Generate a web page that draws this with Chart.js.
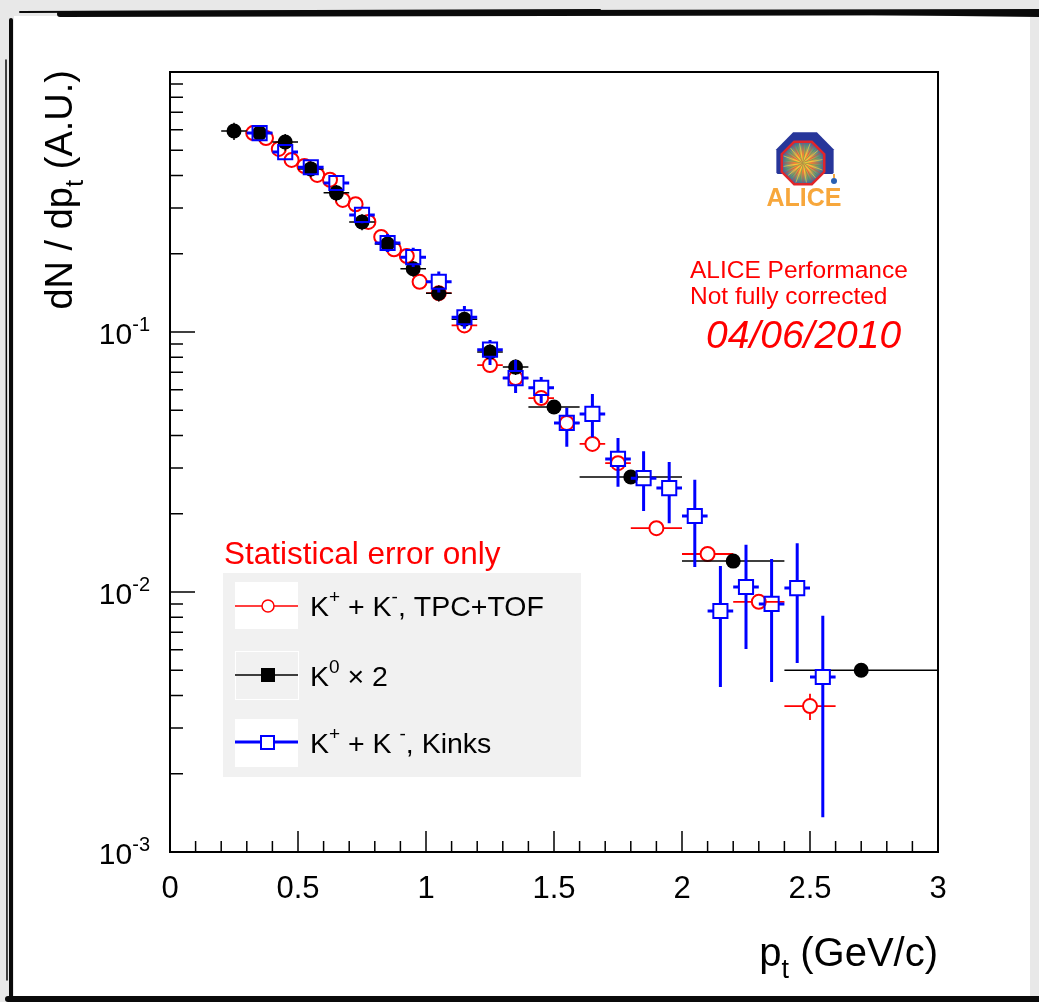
<!DOCTYPE html>
<html>
<head>
<meta charset="utf-8">
<title>dN/dpt kaons - ALICE Performance</title>
<script src="https://cdn.jsdelivr.net/npm/chart.js@4.4.1/dist/chart.umd.min.js"></script>
<style>
    html, body { margin: 0; padding: 0; background: #e8e8e8; overflow: hidden; }
    canvas { display: block; }
</style>
</head>
<body>
<canvas id="spectraChart" width="1039" height="1002"></canvas>
<script>
/**
 * Espectros de kaons
 */

// K+ + K-, TPC+TOF (círculos abertos vermelhos)
const tpcTofX = [0.325, 0.375, 0.425, 0.475, 0.525, 0.575, 0.625, 0.675, 0.725, 0.775, 0.825, 0.875, 0.925, 0.975,
                 1.05, 1.15, 1.25, 1.35, 1.45, 1.55, 1.65, 1.75, 1.9, 2.1, 2.3, 2.5];
const tpcTofXErr = [0.025, 0.025, 0.025, 0.025, 0.025, 0.025, 0.025, 0.025, 0.025, 0.025, 0.025, 0.025, 0.025, 0.025,
                    0.05, 0.05, 0.05, 0.05, 0.05, 0.05, 0.05, 0.05, 0.1, 0.1, 0.1, 0.1];
const tpcTofY = [0.582, 0.557, 0.506, 0.459, 0.435, 0.402, 0.385, 0.322, 0.310, 0.265, 0.232, 0.208, 0.196, 0.156,
                 0.141, 0.106, 0.0746, 0.0665, 0.0557, 0.0447, 0.0371, 0.0313, 0.0176, 0.0140, 0.00917, 0.00364];
const tpcTofYErr = [0.008, 0.008, 0.007, 0.007, 0.006, 0.006, 0.006, 0.005, 0.005, 0.005, 0.004, 0.004, 0.004, 0.004,
                    0.003, 0.003, 0.002, 0.002, 0.002, 0.0018, 0.0015, 0.0013, 0.0009, 0.0008, 0.0004, 0.00042];

// K0 x 2 (círculos cheios pretos)
const k0X = [0.25, 0.35, 0.45, 0.55, 0.65, 0.75, 0.85, 0.95, 1.05, 1.15, 1.25, 1.35, 1.5, 1.8, 2.2, 2.7];
const k0XErr = [0.05, 0.05, 0.05, 0.05, 0.05, 0.05, 0.05, 0.05, 0.05, 0.05, 0.05, 0.05, 0.1, 0.2, 0.2, 0.3];
const k0Y = [0.593, 0.582, 0.538, 0.424, 0.343, 0.265, 0.218, 0.175, 0.141, 0.112, 0.0838, 0.0733, 0.0515, 0.0277, 0.01315, 0.0050];
const k0YErr = [0.045, 0.042, 0.040, 0.030, 0.025, 0.019, 0.015, 0.012, 0.010, 0.008, 0.006, 0.005, 0.002, 0.001, 0.0005, 0.0002];

// K+ + K-, Kinks (quadrados abertos azuis)
const kinkX = [0.35, 0.45, 0.55, 0.65, 0.75, 0.85, 0.95, 1.05, 1.15, 1.25, 1.35, 1.45, 1.55, 1.65, 1.75, 1.85,
               1.95, 2.05, 2.15, 2.25, 2.35, 2.45, 2.55];
const kinkY = [0.582, 0.492, 0.430, 0.374, 0.282, 0.220, 0.194, 0.156, 0.114, 0.0855, 0.0665, 0.0610, 0.0447, 0.0484,
               0.0325, 0.0274, 0.0251, 0.0196, 0.00845, 0.01045, 0.0090, 0.01035, 0.00471];
const kinkYLow = [0.565, 0.470, 0.410, 0.355, 0.262, 0.203, 0.178, 0.142, 0.103, 0.0746, 0.0582, 0.0533, 0.0362, 0.0394,
                  0.0254, 0.0205, 0.0184, 0.01247, 0.00431, 0.00604, 0.00451, 0.00533, 0.00136];
const kinkYHigh = [0.600, 0.515, 0.450, 0.393, 0.303, 0.238, 0.211, 0.171, 0.126, 0.0931, 0.0780, 0.0672, 0.0511, 0.0578,
                   0.0391, 0.0348, 0.0316, 0.0270, 0.01259, 0.0152, 0.0134, 0.0154, 0.0081];
const kinkXErr = 0.05;

// Eixos
const xTickLabels = ['0', '0.5', '1', '1.5', '2', '2.5', '3'];
const yDecades = [-3, -2, -1];

const FONT = '"Liberation Sans", Arial, Helvetica, sans-serif';

document.addEventListener('DOMContentLoaded', function () {
    initializeSpectraChart();
});

/**
 * Monta os pontos com barras de erro
 */
function buildPoints(xs, ys, xErr, yLow, yHigh) {
    return xs.map((x, i) => ({
        x: x,
        y: ys[i],
        xErr: Array.isArray(xErr) ? xErr[i] : xErr,
        yLow: yLow[i],
        yHigh: yHigh[i]
    }));
}

/**
 * Desenha texto com partes em sobrescrito / subscrito
 * parts: [texto, 'n' | 'sup' | 'sub']
 */
function drawRichText(ctx, parts, x, y, size, align, color, style) {
    const fontFor = kind => (style || '') + ' ' + (kind === 'n' ? size : Math.round(size * 0.68)) + 'px ' + FONT;
    let total = 0;
    parts.forEach(([t, kind]) => {
        ctx.font = fontFor(kind);
        total += ctx.measureText(t).width;
    });
    let cx = x;
    if (align === 'right') cx = x - total;
    if (align === 'center') cx = x - total / 2;
    ctx.fillStyle = color;
    ctx.textAlign = 'left';
    ctx.textBaseline = 'alphabetic';
    parts.forEach(([t, kind]) => {
        ctx.font = fontFor(kind);
        let dy = 0;
        if (kind === 'sup') dy = -size * 0.45;
        if (kind === 'sub') dy = size * 0.3;
        ctx.fillText(t, cx, y + dy);
        cx += ctx.measureText(t).width;
    });
}

function octagonPath(ctx, cx, cy, r) {
    ctx.beginPath();
    for (let i = 0; i < 8; i++) {
        const a = Math.PI / 8 + i * Math.PI / 4;
        const px = cx + r * Math.cos(a);
        const py = cy + r * Math.sin(a);
        if (i === 0) ctx.moveTo(px, py); else ctx.lineTo(px, py);
    }
    ctx.closePath();
}

/**
 * Logo ALICE (aproximado)
 */
function drawAliceLogo(ctx, cx, cy) {
    ctx.save();
    // "yoke" azul
    ctx.save();
    ctx.beginPath();
    ctx.rect(cx - 40, cy - 40, 80, 52);
    ctx.clip();
    octagonPath(ctx, cx + 2, cy - 1, 31);
    ctx.fillStyle = '#27369a';
    ctx.fill();
    ctx.restore();
    // octógono interno
    octagonPath(ctx, cx, cy + 1, 23);
    const grad = ctx.createRadialGradient(cx, cy + 1, 1, cx, cy + 1, 23);
    grad.addColorStop(0, '#ffe23a');
    grad.addColorStop(0.35, '#f29a3a');
    grad.addColorStop(0.7, '#6f8f7a');
    grad.addColorStop(1, '#3a4fa8');
    ctx.fillStyle = grad;
    ctx.fill();
    ctx.lineWidth = 2.5;
    ctx.strokeStyle = '#e0262a';
    ctx.stroke();
    // raios
    ctx.save();
    octagonPath(ctx, cx, cy + 1, 21);
    ctx.clip();
    ctx.lineWidth = 0.8;
    for (let i = 0; i < 36; i++) {
        const a = i * Math.PI / 18;
        ctx.strokeStyle = i % 3 === 0 ? 'rgba(220,60,60,0.7)' : (i % 3 === 1 ? 'rgba(60,160,90,0.7)' : 'rgba(250,220,60,0.8)');
        ctx.beginPath();
        ctx.moveTo(cx, cy + 1);
        ctx.lineTo(cx + 24 * Math.cos(a), cy + 1 + 24 * Math.sin(a));
        ctx.stroke();
    }
    ctx.restore();
    // figura pequena
    ctx.fillStyle = '#2a5fb0';
    ctx.beginPath();
    ctx.arc(cx + 31, cy + 19, 3, 0, Math.PI * 2);
    ctx.fill();
    ctx.fillStyle = '#f2a640';
    ctx.fillRect(cx + 30, cy + 12, 2, 4);
    // texto
    ctx.font = 'bold 25px ' + FONT;
    ctx.fillStyle = '#f7a73c';
    ctx.textAlign = 'center';
    ctx.fillText('ALICE', cx + 1, cy + 44);
    ctx.restore();
}

/**
 * Fundo com moldura "pincelada"
 */
const framePlugin = {
    id: 'photoFrame',
    beforeDraw(chart) {
        const ctx = chart.ctx;
        ctx.save();
        ctx.fillStyle = '#e8e8e8';
        ctx.fillRect(0, 0, chart.width, chart.height);
        ctx.fillStyle = '#ffffff';
        ctx.fillRect(14, 16, 1016, 980);
        ctx.strokeStyle = '#0a0a0a';
        ctx.lineCap = 'round';
        // topo
        ctx.lineWidth = 6;
        ctx.beginPath(); ctx.moveTo(60, 14); ctx.lineTo(1039, 12); ctx.stroke();
        ctx.lineWidth = 2;
        ctx.beginPath(); ctx.moveTo(20, 12); ctx.lineTo(600, 10); ctx.stroke();
        ctx.beginPath(); ctx.moveTo(620, 11); ctx.lineTo(1039, 16); ctx.stroke();
        // esquerda
        ctx.lineWidth = 4;
        ctx.beginPath(); ctx.moveTo(11, 20); ctx.lineTo(11, 998); ctx.stroke();
        ctx.lineWidth = 1.5;
        ctx.beginPath(); ctx.moveTo(6, 60); ctx.lineTo(7, 980); ctx.stroke();
        // base
        ctx.lineWidth = 6;
        ctx.beginPath(); ctx.moveTo(8, 999); ctx.lineTo(1039, 999); ctx.stroke();
        ctx.restore();
    }
};

/**
 * Barras de erro (estilo ROOT, sem cruzar o marcador)
 */
const errorBarPlugin = {
    id: 'errorBars',
    beforeDatasetDraw(chart, args) {
        const ds = chart.data.datasets[args.index];
        const xs = chart.scales.x;
        const ys = chart.scales.y;
        const ctx = chart.ctx;
        const gap = ds.markerGap;
        ctx.save();
        ctx.strokeStyle = ds.pointBorderColor;
        ctx.lineWidth = ds.errorLineWidth;
        ctx.lineCap = 'butt';
        ds.data.forEach(p => {
            const px = xs.getPixelForValue(p.x);
            const py = ys.getPixelForValue(p.y);
            const x0 = xs.getPixelForValue(p.x - p.xErr);
            const x1 = xs.getPixelForValue(p.x + p.xErr);
            const yTop = ys.getPixelForValue(p.yHigh);
            const yBot = ys.getPixelForValue(p.yLow);
            ctx.beginPath();
            if (px - x0 > gap) {
                ctx.moveTo(x0, py); ctx.lineTo(px - gap, py);
                ctx.moveTo(px + gap, py); ctx.lineTo(x1, py);
            }
            if (py - yTop > gap) { ctx.moveTo(px, yTop); ctx.lineTo(px, py - gap); }
            if (yBot - py > gap) { ctx.moveTo(px, py + gap); ctx.lineTo(px, yBot); }
            ctx.stroke();
        });
        ctx.restore();
    }
};

/**
 * Eixos, moldura do gráfico, textos e legenda
 */
const decorationPlugin = {
    id: 'rootDecorations',
    afterDraw(chart) {
        const ctx = chart.ctx;
        const area = chart.chartArea;
        const xs = chart.scales.x;
        const ys = chart.scales.y;
        ctx.save();

        // moldura
        ctx.strokeStyle = '#000';
        ctx.lineWidth = 2;
        ctx.strokeRect(area.left, area.top, area.right - area.left, area.bottom - area.top);

        // ticks x
        ctx.lineWidth = 1.5;
        ctx.beginPath();
        for (let i = 0; i <= 30; i++) {
            const px = xs.getPixelForValue(i / 10);
            const len = i % 5 === 0 ? 21 : 11;
            ctx.moveTo(px, area.bottom);
            ctx.lineTo(px, area.bottom - len);
        }
        // ticks y (log)
        for (let d = -3; d < 0; d++) {
            for (let m = 1; m <= 9; m++) {
                const v = m * Math.pow(10, d);
                const py = ys.getPixelForValue(v);
                const len = m === 1 ? 25 : 13;
                ctx.moveTo(area.left, py);
                ctx.lineTo(area.left + len, py);
            }
        }
        ctx.stroke();

        // rótulos x
        ctx.fillStyle = '#000';
        ctx.font = '31px ' + FONT;
        ctx.textAlign = 'center';
        ctx.textBaseline = 'alphabetic';
        xTickLabels.forEach(label => {
            ctx.fillText(label, xs.getPixelForValue(parseFloat(label)), area.bottom + 46);
        });

        // rótulos y
        yDecades.forEach(d => {
            const py = ys.getPixelForValue(Math.pow(10, d));
            drawRichText(ctx, [['10', 'n'], [String(d), 'sup']], area.left - 20, py + 12, 30, 'right', '#000');
        });

        // título x
        drawRichText(ctx, [['p', 'n'], ['t', 'sub'], [' (GeV/c)', 'n']], area.right, 966, 40, 'right', '#000');

        // título y (rotacionado)
        ctx.save();
        ctx.translate(72, area.top - 2);
        ctx.rotate(-Math.PI / 2);
        drawRichText(ctx, [['dN / dp', 'n'], ['t', 'sub'], [' (A.U.)', 'n']], 0, 0, 38, 'right', '#000');
        ctx.restore();

        // logo e textos de performance
        drawAliceLogo(ctx, 803, 162);
        ctx.fillStyle = '#ff0000';
        ctx.textAlign = 'left';
        ctx.font = '24.5px ' + FONT;
        ctx.fillText('ALICE Performance', 690, 278);
        ctx.fillText('Not fully corrected', 690, 304);
        ctx.font = 'italic 39px ' + FONT;
        ctx.fillText('04/06/2010', 706, 348);

        // legenda
        ctx.font = '31.5px ' + FONT;
        ctx.fillText('Statistical error only', 224, 564);
        ctx.fillStyle = '#f1f1f1';
        ctx.fillRect(223, 573, 358, 204);
        ctx.fillStyle = '#ffffff';
        ctx.fillRect(235, 582, 63, 47);
        ctx.fillRect(235, 719, 63, 48);
        ctx.strokeStyle = '#ffffff';
        ctx.lineWidth = 1;
        ctx.strokeRect(235.5, 651.5, 63, 48);

        const legendRows = [
            { y: 606, color: '#ff0000', width: 1.5, marker: 'circle' },
            { y: 675, color: '#000000', width: 1.5, marker: 'filledSquare' },
            { y: 742, color: '#0000ff', width: 3, marker: 'square' }
        ];
        legendRows.forEach(row => {
            ctx.strokeStyle = row.color;
            ctx.lineWidth = row.width;
            ctx.beginPath();
            ctx.moveTo(235, row.y);
            ctx.lineTo(298, row.y);
            ctx.stroke();
            ctx.lineWidth = 1.5;
            if (row.marker === 'circle') {
                ctx.fillStyle = '#ffffff';
                ctx.beginPath();
                ctx.arc(268, row.y, 6, 0, Math.PI * 2);
                ctx.fill();
                ctx.stroke();
            } else if (row.marker === 'filledSquare') {
                ctx.fillStyle = '#000';
                ctx.fillRect(261, row.y - 7, 14, 14);
            } else {
                ctx.fillStyle = '#ffffff';
                ctx.fillRect(261, row.y - 6, 13, 13);
                ctx.lineWidth = 2;
                ctx.strokeRect(261, row.y - 6, 13, 13);
            }
        });
        drawRichText(ctx, [['K', 'n'], ['+', 'sup'], [' + K', 'n'], ['-', 'sup'], [', TPC+TOF', 'n']], 310, 616, 28.5, 'left', '#000');
        drawRichText(ctx, [['K', 'n'], ['0', 'sup'], [' \u00d7 2', 'n']], 310, 686, 28.5, 'left', '#000');
        drawRichText(ctx, [['K', 'n'], ['+', 'sup'], [' + K ', 'n'], ['-', 'sup'], [', Kinks', 'n']], 310, 753, 28.5, 'left', '#000');

        ctx.restore();
    }
};

/**
 * Inicializa o gráfico dos espectros
 */
function initializeSpectraChart() {
    const chartCanvas = document.getElementById('spectraChart');
    if (!chartCanvas) return;

    const tpcTofLow = tpcTofY.map((y, i) => y - tpcTofYErr[i]);
    const tpcTofHigh = tpcTofY.map((y, i) => y + tpcTofYErr[i]);
    const k0Low = k0Y.map((y, i) => y - k0YErr[i]);
    const k0High = k0Y.map((y, i) => y + k0YErr[i]);

    try {
        new Chart(chartCanvas, {
            type: 'scatter',
            data: {
                datasets: [{
                    label: 'K+ + K-, TPC+TOF',
                    data: buildPoints(tpcTofX, tpcTofY, tpcTofXErr, tpcTofLow, tpcTofHigh),
                    pointStyle: 'circle',
                    pointRadius: 7,
                    pointBorderWidth: 2,
                    pointBorderColor: '#ff0000',
                    pointBackgroundColor: 'rgba(255,255,255,0)',
                    markerGap: 7,
                    errorLineWidth: 1.8,
                    order: 3
                }, {
                    label: 'K0 x 2',
                    data: buildPoints(k0X, k0Y, k0XErr, k0Low, k0High),
                    pointStyle: 'circle',
                    pointRadius: 7.5,
                    pointBorderWidth: 0,
                    pointBorderColor: '#000000',
                    pointBackgroundColor: '#000000',
                    markerGap: 6.5,
                    errorLineWidth: 1.5,
                    order: 2
                }, {
                    label: 'K+ + K-, Kinks',
                    data: buildPoints(kinkX, kinkY, kinkXErr, kinkYLow, kinkYHigh),
                    pointStyle: 'rect',
                    pointRadius: 10,
                    pointBorderWidth: 2,
                    pointBorderColor: '#0000ff',
                    pointBackgroundColor: 'rgba(255,255,255,0)',
                    markerGap: 7,
                    errorLineWidth: 3,
                    order: 1
                }]
            },
            options: {
                responsive: false,
                animation: false,
                events: [],
                layout: {
                    padding: { left: 170, right: 101, top: 72, bottom: 150 }
                },
                scales: {
                    x: { type: 'linear', min: 0, max: 3, display: false },
                    y: { type: 'logarithmic', min: 0.001, max: 1, display: false }
                },
                plugins: {
                    legend: { display: false },
                    tooltip: { enabled: false }
                }
            },
            plugins: [framePlugin, errorBarPlugin, decorationPlugin]
        });
    } catch (error) {
        console.error('Erro ao inicializar gráfico de espectros:', error);
    }
}
</script>
</body>
</html>
